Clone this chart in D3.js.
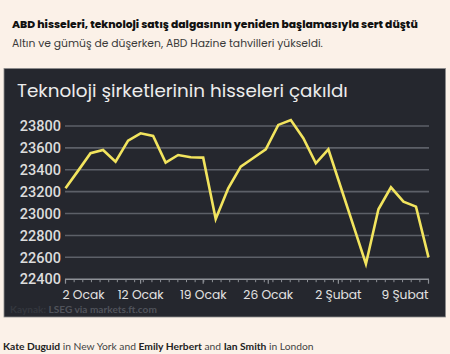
<!DOCTYPE html>
<html><head><meta charset="utf-8">
<script src="https://cdn.jsdelivr.net/npm/d3@7"></script>
<style>
html,body{margin:0;padding:0;background:#fbf1e8;}
svg{display:block;}
</style></head>
<body>
<svg id="c" width="450" height="354"></svg>
<script>
// ---- data ----
const dates = ["2 Ocak","5 Ocak","6 Ocak","7 Ocak","8 Ocak","9 Ocak","12 Ocak","13 Ocak","14 Ocak","15 Ocak",
  "16 Ocak","19 Ocak","20 Ocak","21 Ocak","22 Ocak","23 Ocak","26 Ocak","27 Ocak","28 Ocak","29 Ocak",
  "30 Ocak","31 Ocak","2 Şubat","3 Şubat","4 Şubat","5 Şubat","6 Şubat","7 Şubat","8 Şubat","9 Şubat"];
const values = [23231,23390,23551,23581,23474,23666,23733,23709,23465,23535,
  23514,23511,22950,23231,23428,23508,23587,23810,23855,23688,
  23459,23587,23238,22889,22539,23039,23240,23109,23063,22600];
const yTicks = [22400,22600,22800,23000,23200,23400,23600,23800];
const xTickLabels = ["2 Ocak","12 Ocak","19 Ocak","26 Ocak","2 Şubat","9 Şubat"];
const xTickPos = [0, 6, 11, 16.2, 21.8, 29];

const title = "ABD hisseleri, teknoloji satış dalgasının yeniden başlamasıyla sert düştü";
const subtitle = "Altın ve gümüş de düşerken, ABD Hazine tahvilleri yükseldi.";
const chartTitle = "Teknoloji şirketlerinin hisseleri çakıldı";

const svg = d3.select("#c");
const F = "Poppins, Inter, 'Open Sans', sans-serif";

function fit(sel, w){
  const l = sel.node().getComputedTextLength();
  const fs = parseFloat(sel.attr("font-size"));
  sel.attr("font-size", fs * w / l);
  return fs * w / l;
}

fit(svg.append("text").attr("x",12).attr("y",28).attr("font-family",F).attr("font-weight",800)
  .attr("font-size",11).attr("fill","#111").text(title), 406);
fit(svg.append("text").attr("x",12).attr("y",47).attr("font-family",F).attr("font-weight",400)
  .attr("font-size",10.5).attr("fill","#3a3a3a").text(subtitle), 311);

// panel
svg.append("rect").attr("x",4).attr("y",68.5).attr("width",441.5).attr("height",248.5)
  .attr("fill","#25272e").attr("stroke","#8c8c8c").attr("stroke-width",0.8);

fit(svg.append("text").attr("x",17).attr("y",97).attr("font-family",F).attr("font-weight",400)
  .attr("font-size",17).attr("fill","#ececec").text(chartTitle), 331);

const x = d3.scaleLinear().domain([0, dates.length-1]).range([65.5, 428.5]);
const y = d3.scaleLinear().domain([22400, 23800]).range([279.2, 126]);

// gridlines
svg.append("g").selectAll("line").data(yTicks.slice(1)).join("line")
  .attr("x1",65).attr("x2",429).attr("y1",d=>y(d)).attr("y2",d=>y(d))
  .attr("stroke","#5d6068").attr("stroke-width",1.6);

// y labels
svg.append("g").selectAll("text").data(yTicks).join("text")
  .attr("x",61).attr("y",d=>y(d)).attr("dy","0.36em").attr("text-anchor","end")
  .attr("font-family","Roboto, sans-serif").attr("font-weight",500).attr("font-size",14.5)
  .attr("fill","#dcdcdc").text(d=>d);

// x axis
const axisY = y(22400);
svg.append("line").attr("x1",65).attr("x2",429).attr("y1",axisY).attr("y2",axisY)
  .attr("stroke","#8e9197").attr("stroke-width",1.4);
const minor = d3.range(0, 29.001, 29/42);
svg.append("g").selectAll("line").data(minor).join("line")
  .attr("x1",d=>x(d)).attr("x2",d=>x(d)).attr("y1",axisY).attr("y2",axisY+3)
  .attr("stroke","#8e9197").attr("stroke-width",1);
svg.append("g").selectAll("line").data(xTickPos).join("line")
  .attr("x1",d=>x(d)).attr("x2",d=>x(d)).attr("y1",axisY).attr("y2",axisY+4.5)
  .attr("stroke","#8e9197").attr("stroke-width",1.2);

// measure label font size so "12 Ocak" is ~46px wide
const probe = svg.append("text").attr("font-family",F).attr("font-size",14).text(xTickLabels[1]);
const xfs = fit(probe, 46);
probe.remove();

svg.append("g").selectAll("text").data(xTickLabels).join("text")
  .attr("x",(d,i)=> i===0 ? x(xTickPos[i])-3 : x(xTickPos[i]))
  .attr("y",299)
  .attr("text-anchor",(d,i)=> i===0 ? "start" : (i===xTickLabels.length-1 ? "end" : "middle"))
  .attr("font-family",F).attr("font-size",xfs).attr("fill","#e2e2e2").text(d=>d);

// line
svg.append("path").datum(values)
  .attr("d", d3.line().x((d,i)=>x(i)).y(d=>y(d)))
  .attr("fill","none").attr("stroke","#f2e45e").attr("stroke-width",2.6)
  .attr("stroke-linejoin","miter");

// source
const src = svg.append("text").attr("x",10).attr("y",313).attr("font-family","Lato, sans-serif")
  .attr("font-size",11.5).attr("font-weight",700);
src.append("tspan").attr("fill","#34373e").text("Kaynak: ");
src.append("tspan").attr("fill","#50535b").text("LSEG via markets.ft.com");
fit(src, 147);

// byline
const by = svg.append("text").attr("x",3).attr("y",350).attr("font-family","Lato, sans-serif")
  .attr("font-size",11).attr("fill","#333");
[["Kate Duguid",700],[" in New York and ",400],["Emily Herbert",700],[" and ",400],["Ian Smith",700],[" in London",400]]
  .forEach(([t,w])=> by.append("tspan").attr("font-weight",w).attr("fill", w===700?"#222":"#444").text(t));
fit(by, 311);
</script>
</body></html>
